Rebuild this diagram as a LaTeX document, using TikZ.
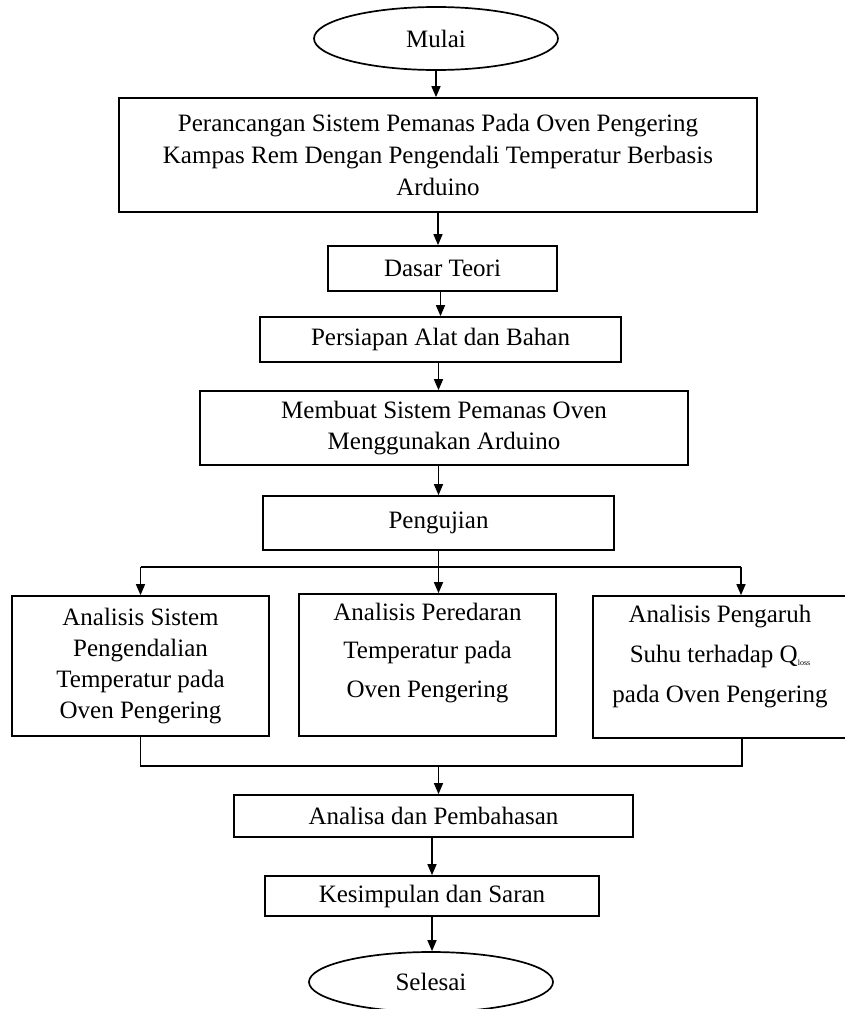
\documentclass[tikz,border=0pt]{standalone}
\usepackage{fontspec}
\setmainfont{Liberation Serif}
\usetikzlibrary{arrows.meta,shapes.geometric}
\newcommand{\fsA}{\fontsize{25}{32}\selectfont}
\newcommand{\fsB}{\fontsize{25}{31}\selectfont}
\newcommand{\fsC}{\fontsize{25}{38.5}\selectfont}
\newcommand{\fsD}{\fontsize{25}{40}\selectfont}
\begin{document}
\begin{tikzpicture}[x=1pt,y=-1pt,
  box/.style={draw, rectangle, line width=1.7pt, inner sep=0pt, align=center, font=\fsB},
  term/.style={draw, ellipse, line width=1.7pt, inner sep=0pt, font=\fsB},
  txt/.style={inner sep=0pt, align=center},
  arr/.style={line width=1.5pt, -{Triangle[length=11pt,width=9pt]}},
  ln/.style={line width=1.5pt}]
\useasboundingbox (0,0) rectangle (844,1009);

\node[term, minimum width=244pt, minimum height=63pt] (start) at (436,38.5) {Mulai};
\node[box, font=\fsA, minimum width=638pt, minimum height=114pt] (b1) at (438,155)
  {Perancangan Sistem Pemanas Pada Oven Pengering\\Kampas Rem Dengan Pengendali Temperatur Berbasis\\Arduino};
\node[box, minimum width=229pt, minimum height=45pt] (dasar) at (442.5,268.5) {Dasar Teori};
\node[box, minimum width=361pt, minimum height=45pt] (prep) at (440.5,339.5) {Persiapan Alat dan Bahan};
\node[box, minimum width=488pt, minimum height=74pt] (make) at (444,428) {Membuat Sistem Pemanas Oven\\Menggunakan Arduino};
\node[box, minimum width=351pt, minimum height=54pt] (test) at (438.5,523) {Pengujian};

\node[box, minimum width=257pt, minimum height=140pt] (a1) at (140.5,666)
  {Analisis Sistem\\Pengendalian\\Temperatur pada\\Oven Pengering};
\node[box, minimum width=257pt, minimum height=142pt] (a2) at (427.5,665) {};
\node[txt, font=\fsC] (a2t) at (427.5,653) {Analisis Peredaran\\Temperatur pada\\Oven Pengering};
\node[box, minimum width=254pt, minimum height=142pt] (a3) at (720,667) {};
\node[txt, font=\fsD] (a3t) at (720,657)
  {Analisis Pengaruh\\Suhu terhadap Q\raisebox{-3pt}{\fontsize{8}{8}\selectfont loss}\\pada Oven Pengering};

\node[box, minimum width=399pt, minimum height=42pt] (ana) at (433.5,816) {Analisa dan Pembahasan};
\node[box, minimum width=334pt, minimum height=40pt] (kes) at (432,896) {Kesimpulan dan Saran};
\node[term, minimum width=244pt, minimum height=60pt] (end) at (431,982) {Selesai};

\coordinate (br) at (438.5,567);
\coordinate (br3) at (741,567);
\coordinate (j1) at (143,766);
\coordinate (j3) at (742,766);

\draw[arr] (start.south) -- (start.south |- b1.north);
\draw[arr] (b1.south) -- (b1.south |- dasar.north);
\draw[arr] (dasar.south -| prep.north) -- (prep.north);
\draw[arr] (prep.south -| test.north) -- (test.north |- make.north);
\draw[arr] (make.south -| test.north) -- (test.north);
\draw[arr] (test.south) -- (test.south |- a2.north);
\draw[ln] (a1.north |- br) -- (br3);
\draw[arr] (a1.north |- br) -- (a1.north);
\draw[arr] (br3) -- (br3 |- a3.north);
\draw[ln] (a1.south) -- (a1.south |- j1) -- (j3) -- (j3 |- a3.south);
\draw[arr] (test.south |- j1) -- (test.south |- ana.north);
\draw[arr] (ana.south -| kes.north) -- (kes.north);
\draw[arr] (kes.south) -- (kes.south |- end.north);
\end{tikzpicture}
\end{document}
